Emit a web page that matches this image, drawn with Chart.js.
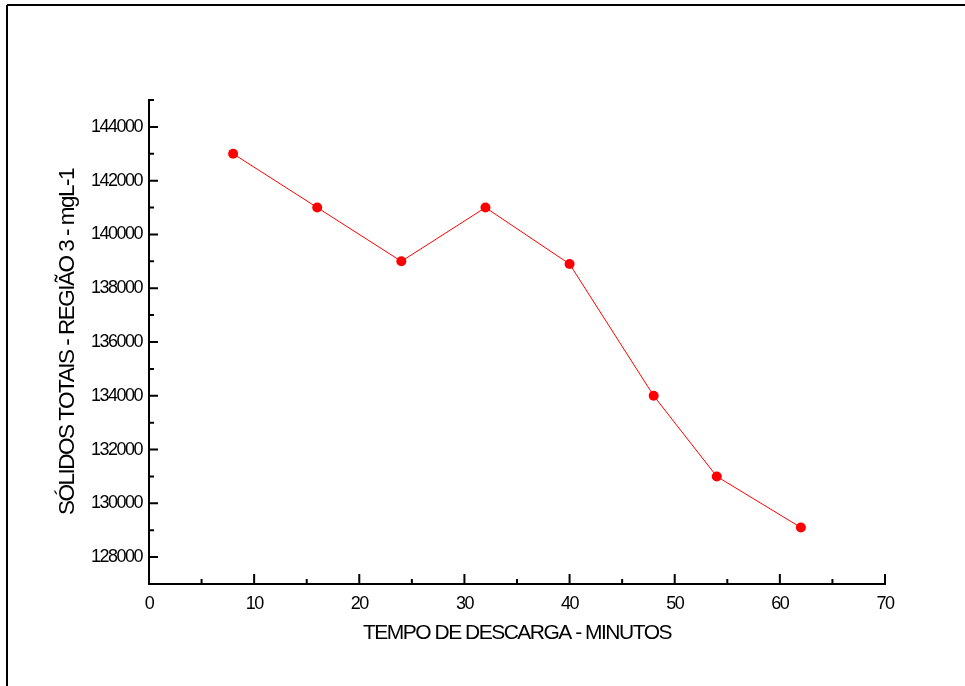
<!DOCTYPE html>
<html>
<head>
<meta charset="utf-8">
<script src="https://cdn.jsdelivr.net/npm/chart.js@4.4.1/dist/chart.umd.min.js"></script>
<style>
  html, body { margin: 0; padding: 0; background: #fff; }
  canvas { display: block; }
</style>
</head>
<body>
<canvas id="c" width="965" height="686"></canvas>
<script>
const xValues = [8, 16, 24, 32, 40, 48, 54, 62];
const yValues = [143000, 141000, 139000, 141000, 138900, 134000, 131000, 129100];
const xTitle = 'TEMPO DE DESCARGA - MINUTOS';
const yTitle = 'SÓLIDOS TOTAIS - REGIÃO 3 - mgL-1';

const FONT = '"Liberation Sans", Arial, Helvetica, sans-serif';
const LS = '-1.5px';

const spacingPlugin = {
  id: 'spacing',
  beforeUpdate(chart) { chart.ctx.letterSpacing = LS; },
  beforeLayout(chart) { chart.ctx.letterSpacing = LS; },
  beforeDraw(chart) {
    const ctx = chart.ctx;
    ctx.letterSpacing = LS;
    ctx.save();
    ctx.fillStyle = '#fff';
    ctx.fillRect(0, 0, chart.width, chart.height);
    ctx.restore();
  }
};

const axesPlugin = {
  id: 'axes',
  afterDraw(chart) {
    const ctx = chart.ctx;
    const xs = chart.scales.x, ys = chart.scales.y;
    const x0 = xs.getPixelForValue(xs.min), x1 = xs.getPixelForValue(xs.max);
    const y0 = ys.getPixelForValue(ys.min), y1 = ys.getPixelForValue(ys.max);
    ctx.save();
    ctx.strokeStyle = '#000';
    ctx.lineWidth = 2;
    ctx.lineCap = 'butt';
    ctx.beginPath();
    // axis lines
    ctx.moveTo(x0, y1 - 1); ctx.lineTo(x0, y0 + 1);
    ctx.moveTo(x0 - 1, y0); ctx.lineTo(x1 + 1, y0);
    // x ticks
    xs.ticks.forEach(t => {
      const px = xs.getPixelForValue(t.value);
      const len = (t.value % 10 === 0) ? 10 : 5;
      ctx.moveTo(px, y0); ctx.lineTo(px, y0 - len);
    });
    // y ticks
    ys.ticks.forEach(t => {
      const py = ys.getPixelForValue(t.value);
      const len = (t.value % 2000 === 0) ? 9 : 5;
      ctx.moveTo(x0, py); ctx.lineTo(x0 + len, py);
    });
    ctx.stroke();
    // frame
    ctx.lineWidth = 2;
    ctx.beginPath();
    ctx.moveTo(7, 5); ctx.lineTo(chart.width + 2, 5);
    ctx.moveTo(7, 5); ctx.lineTo(7, chart.height + 2);
    ctx.stroke();
    ctx.restore();
  }
};

new Chart(document.getElementById('c'), {
  type: 'line',
  data: {
    datasets: [{
      data: xValues.map((x, i) => ({ x: x, y: yValues[i] })),
      borderColor: '#ff0000',
      borderWidth: 1,
      backgroundColor: '#ff0000',
      pointBackgroundColor: '#ff0000',
      pointBorderWidth: 0,
      pointRadius: 5,
      tension: 0,
      fill: false
    }]
  },
  options: {
    responsive: false,
    animation: false,
    devicePixelRatio: 1,
    layout: { padding: { top: 100, right: 80, bottom: 0, left: 0 } },
    plugins: { legend: { display: false }, tooltip: { enabled: false } },
    scales: {
      x: {
        type: 'linear',
        min: 0, max: 70,
        grid: { display: false, drawTicks: false },
        border: { display: false },
        ticks: {
          stepSize: 5, autoSkip: false, maxRotation: 0, padding: 9,
          color: '#000',
          font: { family: FONT, size: 18 },
          callback: v => (v % 10 === 0 ? String(v) : '')
        },
        title: {
          display: true, text: xTitle, color: '#000',
          font: { family: FONT, size: 21 },
          padding: { top: 0, bottom: 40 }
        },
        afterFit: s => { s.height = 102; }
      },
      y: {
        type: 'linear',
        min: 127000, max: 145000,
        grid: { display: false, drawTicks: false },
        border: { display: false },
        ticks: {
          stepSize: 1000, autoSkip: false, padding: 7,
          color: '#000',
          font: { family: FONT, size: 18 },
          callback: v => (v % 2000 === 0 ? String(v) : '')
        },
        title: {
          display: true, text: yTitle, color: '#000',
          font: { family: FONT, size: 22.5 },
          padding: { top: 54, bottom: 0 }
        },
        afterFit: s => { s.width = 149; }
      }
    }
  },
  plugins: [spacingPlugin, axesPlugin]
});
</script>
</body>
</html>
